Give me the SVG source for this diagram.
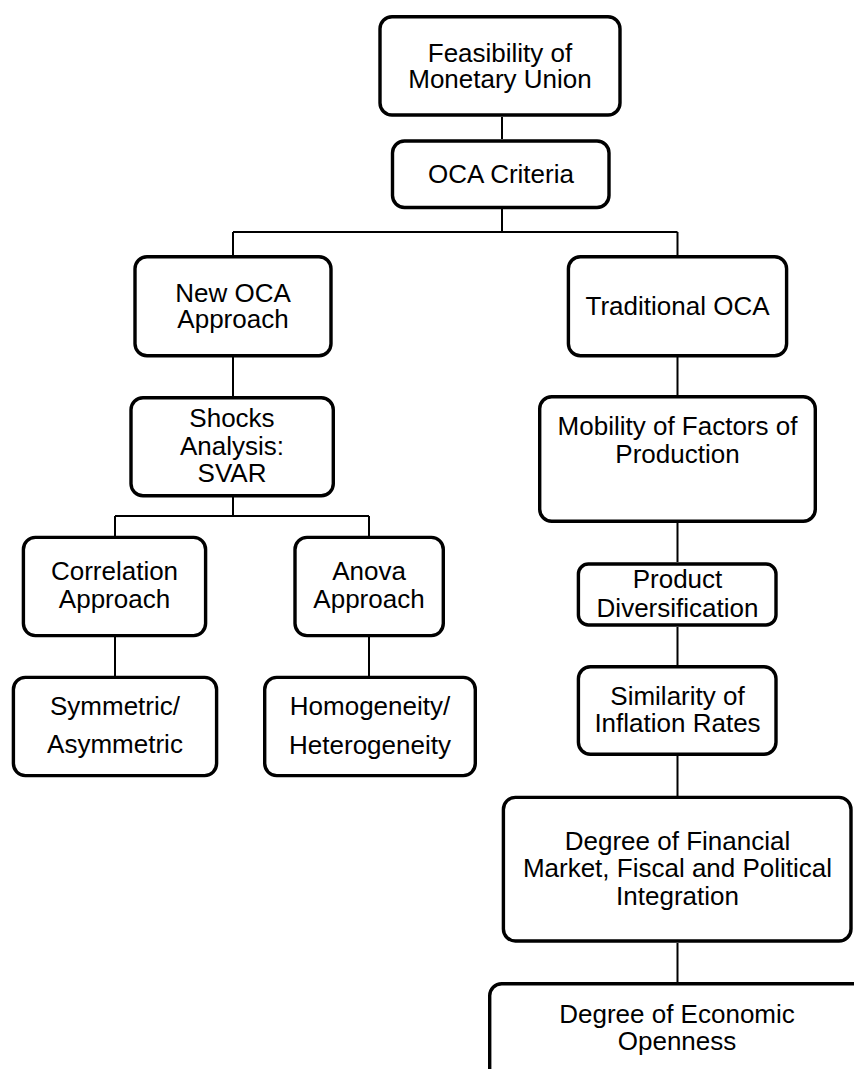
<svg xmlns="http://www.w3.org/2000/svg" width="854" height="1069" viewBox="0 0 854 1069">
<style>
.box{fill:#fff;stroke:#000;stroke-width:3.4}
.con{fill:none;stroke:#000;stroke-width:2}
text{font-family:"Liberation Sans",Arial,sans-serif;font-size:26px;fill:#000;text-anchor:middle}
</style>
<rect width="854" height="1069" fill="#fff"/>
<g id="connectors" class="con">
<path d="M502 117V139"/>
<path d="M502 209V232M233 232H677.5M233 232V255M677.5 232V255"/>
<path d="M233 357V396"/>
<path d="M233 497V516M115 516H369M115 516V536M369 516V536"/>
<path d="M115 637V676M369 637V676"/>
<path d="M677.5 357V395M677.5 523V562M677.5 627V666M677.5 756V796M677.5 943V982"/>
</g>
<g id="feasibility"><rect class="box" x="380" y="16.7" width="240" height="98.3" rx="12"/><text x="500" y="62">Feasibility of</text><text x="500" y="88">Monetary Union</text></g>
<g id="oca-criteria"><rect class="box" x="392.5" y="141" width="216.5" height="66.5" rx="12"/><text x="501" y="183">OCA Criteria</text></g>
<g id="new-oca"><rect class="box" x="135" y="256.7" width="196" height="99" rx="12"/><text x="233" y="302">New OCA</text><text x="233" y="328">Approach</text></g>
<g id="traditional-oca"><rect class="box" x="568.4" y="256.7" width="218.2" height="99" rx="12"/><text x="677.5" y="315">Traditional OCA</text></g>
<g id="shocks"><rect class="box" x="131" y="397.7" width="202.3" height="98" rx="12"/><text x="232" y="427">Shocks</text><text x="232" y="455">Analysis:</text><text x="232" y="482">SVAR</text></g>
<g id="mobility"><rect class="box" x="539.7" y="396.7" width="275.6" height="124.6" rx="12"/><text x="677.5" y="435">Mobility of Factors of</text><text x="677.5" y="463">Production</text></g>
<g id="correlation"><rect class="box" x="23.4" y="537.4" width="182.2" height="98.2" rx="12"/><text x="114.5" y="580">Correlation</text><text x="114.5" y="608">Approach</text></g>
<g id="anova"><rect class="box" x="295" y="537.4" width="148.3" height="98.2" rx="12"/><text x="369" y="580">Anova</text><text x="369" y="608">Approach</text></g>
<g id="symmetric"><rect class="box" x="13.4" y="677.4" width="203.2" height="98.2" rx="12"/><text x="115" y="715">Symmetric/</text><text x="115" y="753">Asymmetric</text></g>
<g id="homogeneity"><rect class="box" x="264.7" y="677.4" width="210.6" height="98.2" rx="12"/><text x="370" y="715">Homogeneity/</text><text x="370" y="754">Heterogeneity</text></g>
<g id="product"><rect class="box" x="578.4" y="564" width="197.6" height="61" rx="10"/><text x="677.5" y="588">Product</text><text x="677.5" y="617">Diversification</text></g>
<g id="similarity"><rect class="box" x="578.4" y="666.7" width="197.6" height="87.6" rx="12"/><text x="677.5" y="705">Similarity of</text><text x="677.5" y="732">Inflation Rates</text></g>
<g id="financial"><rect class="box" x="503.4" y="797.4" width="347.6" height="143.6" rx="12"/><text x="677.5" y="850">Degree of Financial</text><text x="677.5" y="877">Market, Fiscal and Political</text><text x="677.5" y="905">Integration</text></g>
<g id="openness"><rect class="box" x="489.7" y="983.7" width="420" height="200" rx="12"/><text x="677" y="1023">Degree of Economic</text><text x="677" y="1050">Openness</text></g>
</svg>
